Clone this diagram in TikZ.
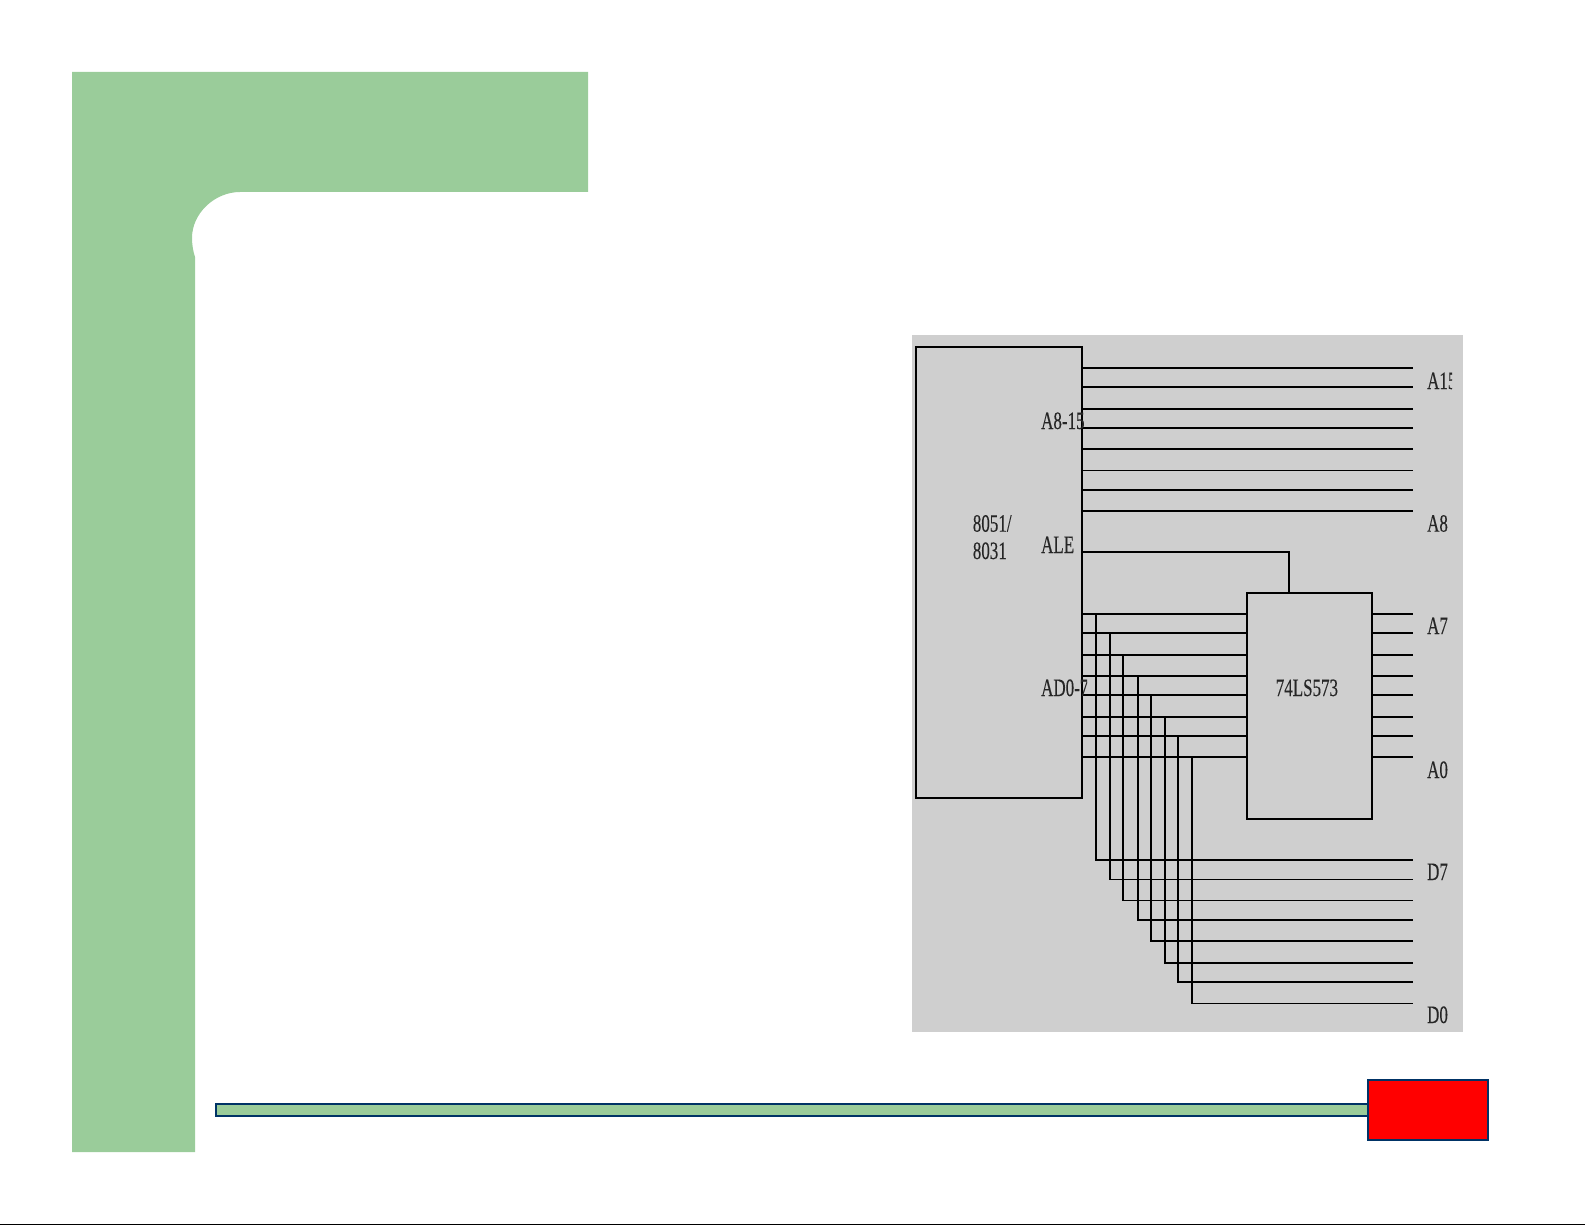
\documentclass[tikz,border=0pt]{standalone}
\usepackage{fontspec}
\setmainfont[FakeBold=0.25]{Liberation Serif}
\usetikzlibrary{calc}
\definecolor{slidegreen}{HTML}{9ACC9A}
\definecolor{slidenavy}{HTML}{003366}
\definecolor{figgrey}{HTML}{CFCFCF}
\tikzset{
  chip/.style={draw, line width=1.7pt, rectangle, inner sep=0pt},
  wire/.style={line width=1.7pt},
  pin/.style={font=\fontsize{25}{25}\selectfont, text=black!85, transform shape, xscale=0.68, anchor=base west, inner sep=0pt},
  navy/.style={draw=slidenavy, line width=2pt, rectangle, inner sep=0pt}
}

\begin{document}
\begin{tikzpicture}[x=1pt, y=-1pt]
  \useasboundingbox (0,0) rectangle (1585,1225);

  % slide frame
  \fill[slidegreen] (72,72) -- (588,72) -- (588,192) -- (240,192)
    .. controls (215,192) and (192,213) .. (192,238)
    .. controls (192,244) and (193,251) .. (195,257)
    -- (195,1152) -- (72,1152) -- cycle;
  \draw[line width=1pt] (0,1224.5) -- (1585,1224.5);
  \node[navy, fill=slidegreen, minimum width=1155pt, minimum height=12pt] (bar) at (793.5,1109.7) {};
  \node[navy, fill=red, minimum width=120pt, minimum height=60pt] (redbox) at (1428,1110) {};

  % figure
  \fill[figgrey] (912,335) rectangle (1463,1032);
  \node[chip, minimum width=166pt, minimum height=451pt] (cpu) at (999,572.5) {};
  \node[chip, minimum width=124.7pt, minimum height=226.6pt] (latch) at (1309.6,706) {};

  % A8-15
  \foreach \i/\y in {15/368.3, 14/387.3, 13/409.3, 12/428.3, 11/449.3, 10/470.5, 9/490, 8/511.3} {
    \coordinate (a\i) at (1413,\y);
    \draw[wire] (cpu.east |- a\i) -- (a\i);
  }

  % ALE
  \coordinate (alepin) at (1082,552);
  \coordinate (aletop) at (1289,592.7);
  \draw[wire] (cpu.east |- alepin) -| (aletop);

  % AD0-7
  \foreach \i/\y/\xv/\yd in {7/614/1096/860.2, 6/633.3/1110.3/879.4, 5/654.7/1123.3/900.6, 4/676/1137.7/919.8,
      3/695.3/1150.7/941, 2/716.7/1165/962.7, 1/736/1178/982, 0/757.3/1192.3/1003.5} {
    \coordinate (a\i) at (1413,\y);
    \coordinate (d\i) at (1413,\yd);
    \coordinate (tap\i) at (\xv,\y);
    \draw[wire] (cpu.east |- a\i) -- (latch.west |- a\i);
    \draw[wire] (latch.east |- a\i) -- (a\i);
    \draw[wire] (tap\i) |- (d\i);
  }

  \node[pin] (cpuname) at (972.7,531.7) {8051/};
  \node[pin] (cpuname2) at (972.7,559) {8031};
  \node[pin] (ale) at (1041,553) {ALE};
  \node[pin] (latchname) at (1275.6,696) {74LS573};
  \node[pin] (a8) at (1427,531.7) {A8};
  \node[pin] (a7) at (1427,634) {A7};
  \node[pin] (a0) at (1427,778) {A0};
  \node[pin] (d7) at (1427,880) {D7};
  \node[pin] (d0) at (1427,1023) {D0};
  \begin{scope}
    \clip (1030,405) rectangle (1084.5,440) (1030,672) rectangle (1087,705) (1420,365) rectangle (1452,395);
    \node[pin] (a815) at (1041,429) {A8-15};
    \node[pin] (ad07) at (1041,696) {AD0-7};
    \node[pin] (a15) at (1427,389) {A15};
  \end{scope}
\end{tikzpicture}
\end{document}
